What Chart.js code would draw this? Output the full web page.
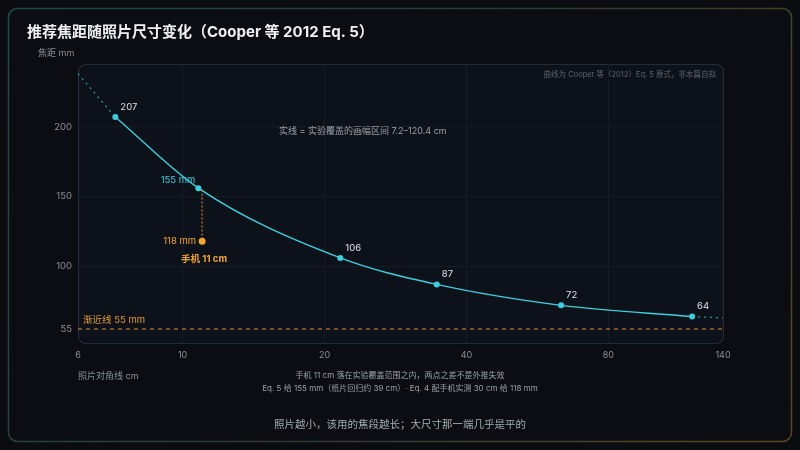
<!DOCTYPE html>
<html><head><meta charset="utf-8">
<script src="https://cdn.jsdelivr.net/npm/chart.js@4/dist/chart.umd.min.js"></script>
<style>html,body{margin:0;padding:0;background:#0a0c10;}#wrap{width:800px;height:450px;position:relative}</style>
</head><body><div id="wrap"><canvas id="c" width="800" height="450"></canvas></div>
<script>
const FONT = 'Inter,"Noto Sans CJK SC","Noto Sans",sans-serif';
// data
const diagCm = [7.2, 10.8, 21.6, 34.6, 63.5, 120.4];
const focalMm = [207, 156, 106, 87, 72, 64];
const pointLabels = ['207', '155 mm', '106', '87', '72', '64'];
const extrapLeftX = [6, 7.2];
const extrapLeftY = [238, 207];
const extrapRightX = [120.4, 140];
const extrapRightY = [64, 63];
const asymptoteMm = 55;
const phoneDiag = 11;
const phoneMeasured = 118;
const phoneEq5 = 155;
const xTicks = [6, 10, 20, 40, 80, 140];
const yTicks = [55, 100, 150, 200];

const CYAN = '#3ccfe0';
const ORANGE = '#f2a431';

const toPts = (xs, ys) => xs.map((x, i) => ({x, y: ys[i]}));

const bgPlugin = {
  id: 'bg',
  beforeDraw(chart) {
    const ctx = chart.ctx, a = chart.chartArea;
    ctx.save();
    ctx.fillStyle = '#0a0c10';
    ctx.fillRect(0, 0, 800, 450);
    const g = ctx.createLinearGradient(8, 8, 792, 442);
    g.addColorStop(0, '#1f4a4a');
    g.addColorStop(0.5, '#2e3a33');
    g.addColorStop(1, '#5b4520');
    ctx.beginPath();
    ctx.roundRect(8.5, 8.5, 783, 433, 9);
    ctx.fillStyle = '#0b0d12';
    ctx.fill();
    ctx.lineWidth = 1.5;
    ctx.strokeStyle = g;
    ctx.stroke();
    ctx.beginPath();
    ctx.roundRect(a.left + 0.5, a.top + 0.5, a.right - a.left, a.bottom - a.top, 7);
    ctx.fillStyle = '#0d121a';
    ctx.fill();
    ctx.lineWidth = 1.2;
    ctx.strokeStyle = '#262c35';
    ctx.stroke();
    ctx.fillStyle = '#eef0f4';
    ctx.font = 'bold 15px ' + FONT;
    ctx.textBaseline = 'middle';
    ctx.fillText('推荐焦距随照片尺寸变化（Cooper 等 2012 Eq. 5）', 27, 32);
    ctx.fillStyle = '#8a9099';
    ctx.font = '9px ' + FONT;
    ctx.fillText('焦距 mm', 38, 53);
    ctx.restore();
  },
  afterDraw(chart) {
    const ctx = chart.ctx, a = chart.chartArea;
    const xs = chart.scales.x, ys = chart.scales.y;
    ctx.save();
    ctx.textBaseline = 'middle';
    diagCm.forEach((d, i) => {
      const px = xs.getPixelForValue(d), py = ys.getPixelForValue(focalMm[i]);
      ctx.font = '9.5px ' + FONT;
      if (i === 1) {
        ctx.fillStyle = CYAN;
        ctx.textAlign = 'right';
        ctx.fillText(pointLabels[i], px - 3, py - 8);
      } else {
        ctx.fillStyle = '#dde2ea';
        ctx.textAlign = 'left';
        ctx.fillText(pointLabels[i], px + 5, py - 10);
      }
    });
    const ppx = xs.getPixelForValue(phoneDiag), ppy = ys.getPixelForValue(phoneMeasured);
    ctx.fillStyle = ORANGE;
    ctx.font = '9.5px ' + FONT;
    ctx.textAlign = 'right';
    ctx.fillText(phoneMeasured + ' mm', ppx - 6, ppy);
    ctx.font = 'bold 9.5px ' + FONT;
    ctx.textAlign = 'left';
    ctx.fillText('手机 11 cm', ppx - 21, ppy + 18);
    ctx.fillStyle = '#e09a2e';
    ctx.font = '9.5px ' + FONT;
    ctx.fillText('渐近线 ' + asymptoteMm + ' mm', a.left + 5, ys.getPixelForValue(asymptoteMm) - 9);
    ctx.fillStyle = '#9aa0aa';
    ctx.font = '9px ' + FONT;
    ctx.fillText('实线 = 实验覆盖的画幅区间 7.2–120.4 cm', 279, 131);
    ctx.fillStyle = '#5c626c';
    ctx.font = '7.5px ' + FONT;
    ctx.textAlign = 'right';
    ctx.fillText('曲线为 Cooper 等（2012）Eq. 5 原式，非本篇自拟', a.right - 7, 75);
    ctx.fillStyle = '#8a9099';
    ctx.font = '9px ' + FONT;
    ctx.textAlign = 'left';
    ctx.fillText('照片对角线 cm', 78, 376);
    ctx.textAlign = 'center';
    ctx.fillStyle = '#9aa0aa';
    ctx.font = '8px ' + FONT;
    ctx.fillText('手机 11 cm 落在实验覆盖范围之内，两点之差不是外推失效', 400, 376);
    ctx.fillText('Eq. 5 给 155 mm（纸片回归约 39 cm）· Eq. 4 配手机实测 30 cm 给 118 mm', 400, 389);
    ctx.fillStyle = '#a4aab3';
    ctx.font = '10.5px ' + FONT;
    ctx.fillText('照片越小，该用的焦段越长；大尺寸那一端几乎是平的', 400, 425);
    ctx.restore();
  }
};

new Chart(document.getElementById('c'), {
  type: 'line',
  data: {
    datasets: [
      { data: [{x: xTicks[0], y: asymptoteMm}, {x: xTicks[xTicks.length - 1], y: asymptoteMm}],
        borderColor: 'rgba(200,140,45,0.85)', borderWidth: 1.3, borderDash: [4, 4], pointRadius: 0 },
      { data: toPts(extrapLeftX, extrapLeftY), borderColor: 'rgba(60,190,205,0.75)', borderWidth: 1.3,
        borderDash: [2, 4], pointRadius: 0 },
      { data: toPts(extrapRightX, extrapRightY), borderColor: 'rgba(60,190,205,0.75)', borderWidth: 1.3,
        borderDash: [2, 4], pointRadius: 0 },
      { data: [{x: phoneDiag, y: phoneEq5}, {x: phoneDiag, y: phoneMeasured}], borderColor: 'rgba(230,150,40,0.8)',
        borderWidth: 1.3, borderDash: [2, 2], pointRadius: [0, 3.5], pointBackgroundColor: ORANGE,
        pointBorderWidth: 0 },
      { data: toPts(diagCm, focalMm), borderColor: CYAN, borderWidth: 1.4, cubicInterpolationMode: 'monotone',
        pointRadius: 3, pointBackgroundColor: CYAN, pointBorderWidth: 0 }
    ]
  },
  options: {
    responsive: false, animation: false,
    layout: { padding: { left: 0, top: 64, right: 77, bottom: 0 } },
    plugins: { legend: { display: false }, tooltip: { enabled: false } },
    scales: {
      x: {
        type: 'logarithmic', min: 6, max: 140,
        afterBuildTicks: s => { s.ticks = xTicks.map(v => ({value: v})); },
        afterFit: s => { s.height = 450 - 343; },
        ticks: { color: '#8a9099', font: { family: FONT, size: 9 }, padding: 7, maxRotation: 0,
          callback: v => String(v) },
        grid: { color: c => (c.tick && (c.tick.value === 6 || c.tick.value === 140)) ? 'rgba(0,0,0,0)' : '#161c25',
          drawTicks: false },
        border: { display: false }
      },
      y: {
        min: 45, max: 245,
        afterBuildTicks: s => { s.ticks = yTicks.map(v => ({value: v})); },
        afterFit: s => { s.width = 78; },
        ticks: { color: '#8a9099', font: { family: FONT, size: 9.5 }, padding: 6, callback: v => String(v) },
        grid: { color: c => (c.tick && c.tick.value === 55) ? 'rgba(0,0,0,0)' : '#161c25', drawTicks: false },
        border: { display: false }
      }
    }
  },
  plugins: [bgPlugin]
});
</script></body></html>
